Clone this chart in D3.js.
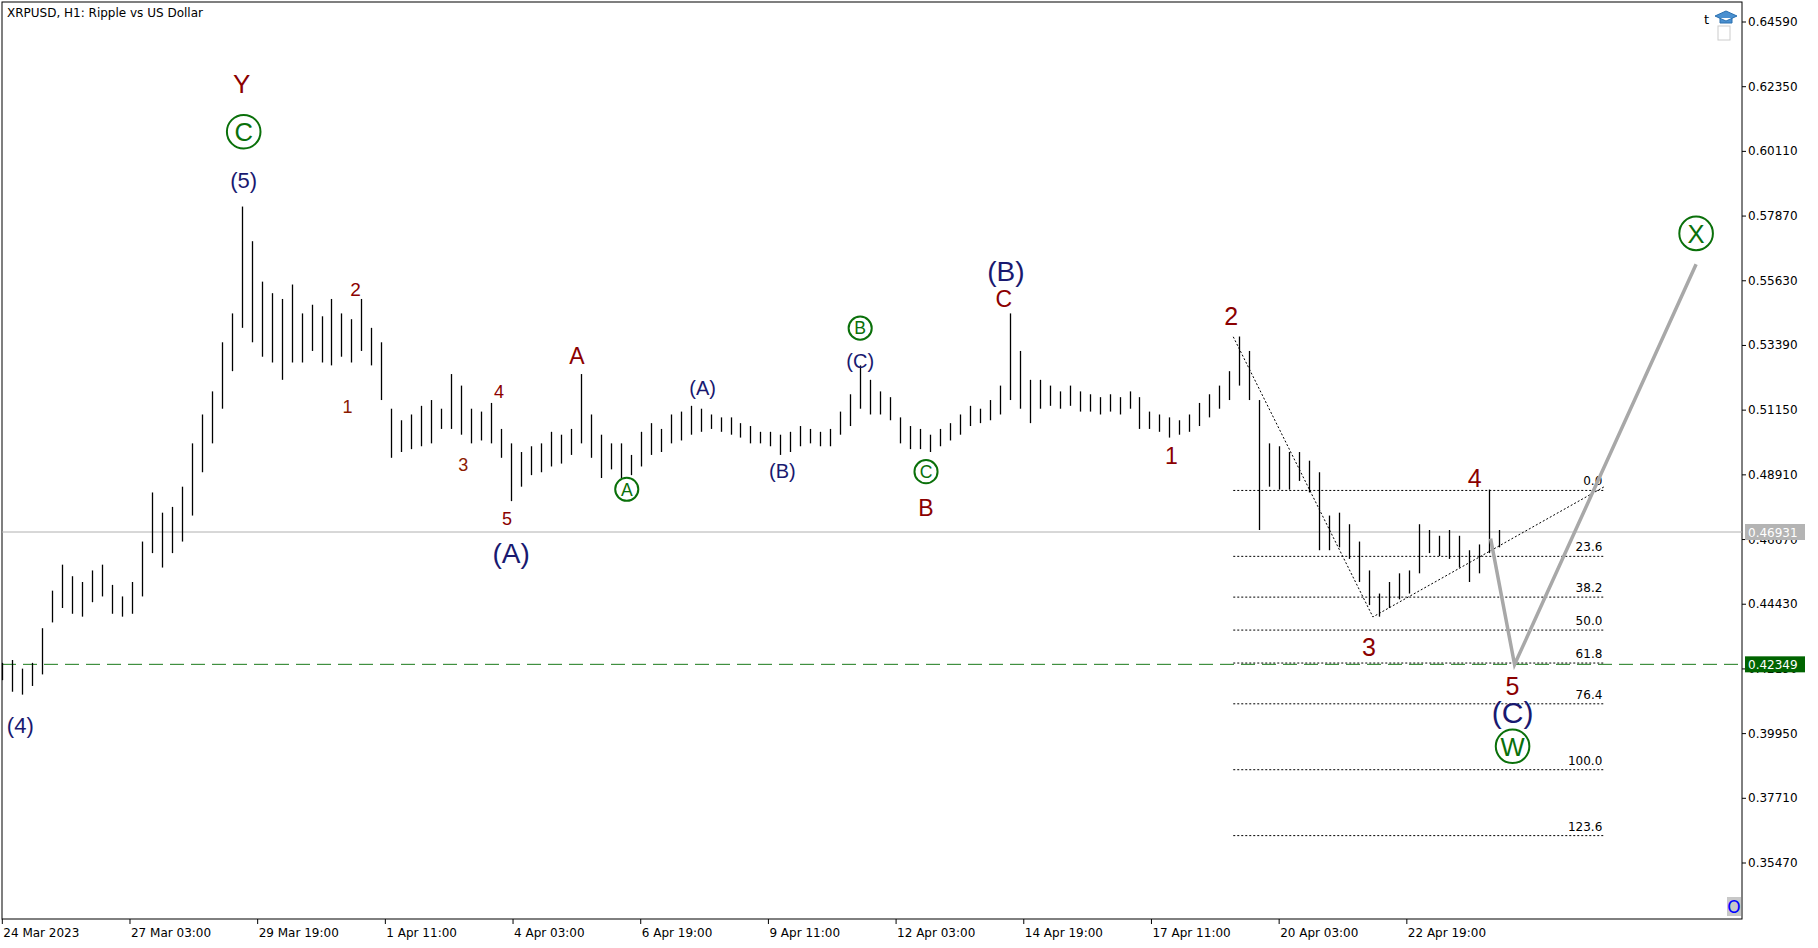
<!DOCTYPE html>
<html><head><meta charset="utf-8">
<script src="https://cdn.jsdelivr.net/npm/d3@7"></script>
<style>body{margin:0;background:#fff}svg{display:block}</style>
</head><body><svg id="c" width="1818" height="948"></svg>
<script>
// bars every 5 hours (hour offset = 5*k), prices in thousandths
const barHigh=[424,425,422,424,436,449,458,454,452,456,458,451,447,452,466,483,476,478,485,500,510,518,535,545,582,570,556,552,550,555,545,548,544,550,545,543,550,540,535,512,508,510,513,515,512,524,520,512,511,514,505,500,497,499,500,504,503,505,524,510,503,500,500,496,504,507,505,510,511,513,512,510,509,509,507,506,504,504,503,504,506,505,504,505,511,517,527,522,518,516,509,506,505,503,505,507,510,513,512,515,520,545,532,522,522,520,518,520,518,517,516,517,516,518,516,511,510,509,508,510,514,517,520,525,537,532,515,500,499,497,497,494,490,475,476,472,466,456,448,452,455,456,472,470,468,470,468,463,465,484,470];
const barLow=[418,414,413,416,420,438,443,441,440,445,447,441,440,441,447,462,457,462,466,475,490,500,512,525,540,535,530,528,522,528,528,532,528,527,530,528,532,527,515,495,497,498,499,500,505,505,503,500,501,500,495,480,485,489,490,492,493,496,500,495,488,491,488,489,492,496,497,500,501,503,504,505,504,503,502,500,500,499,496,497,499,500,499,499,503,506,512,510,510,508,500,498,498,497,499,501,503,506,507,508,510,515,512,507,512,513,512,513,511,511,510,511,510,512,505,505,504,502,503,504,506,509,512,515,520,515,470,485,484,484,487,483,463,463,464,460,452,444,440,443,446,448,455,462,461,460,457,452,455,462,464];
const barHours=5;
const dateLabels=["24 Mar 2023","27 Mar 03:00","29 Mar 19:00","1 Apr 11:00","4 Apr 03:00","6 Apr 19:00","9 Apr 11:00","12 Apr 03:00","14 Apr 19:00","17 Apr 11:00","20 Apr 03:00","22 Apr 19:00"];
const dateHours=[0,64,128,192,256,320,384,448,512,576,640,704];
const priceTicks=[0.64590,0.62350,0.60110,0.57870,0.55630,0.53390,0.51150,0.48910,0.46670,0.44430,0.42190,0.39950,0.37710,0.35470];
const currentPrice=0.46931, levelPrice=0.42349;
const fibRatios=[0,23.6,38.2,50,61.8,76.4,100,123.6];
const fibTop=0.4837, fibBottom=0.3870, fibStartH=617, fibEndH=803;
const trendPts=[[617,0.5369],[687,0.4399],[803,0.4850]];
const forecast=[[746,0.4670],[758,0.4234],[849,0.5620]];
// labels: text, hour, price, type, size
const labels=[
["Y",120,0.6245,"r",26],["C",121,0.6079,"g",16],["(5)",121,0.5913,"b",22],["(4)",9,0.4024,"b",22],
["2",177,0.5533,"r",19],["1",173,0.5128,"o",18],["3",231,0.4926,"o",18],["4",249,0.5181,"r",18],["5",253,0.4740,"r",18],
["(A)",255,0.4619,"b",28],["A",288,0.5302,"r",23],["A",313,0.4841,"g",11],["(A)",351,0.5193,"b",20],["(B)",391,0.4906,"b",20],
["B",430,0.5399,"g",11],["(C)",430,0.5286,"b",20],["C",463,0.4902,"g",11],["B",463,0.4776,"r",23],
["(B)",503,0.5597,"b",28],["C",502,0.5500,"r",23],["2",616,0.5440,"r",25],["1",586,0.4958,"r",23],
["3",685,0.4295,"r",25],["4",738,0.4881,"r",25],["5",757,0.4161,"r",25],["(C)",757,0.4068,"b",30],["W",757,0.3951,"g",16],["X",849,0.5727,"g",16]];

const svg=d3.select("#c");
const L=2,T=2,R=1742,B=919;
const x=d3.scaleLinear().domain([0,872]).range([L+0.3,R]);
const y=d3.scaleLinear().domain([0.6459,0.3547]).range([22,863]);
const F="'DejaVu Sans',sans-serif";

svg.append("rect").attr("x",L).attr("y",T).attr("width",R-L).attr("height",B-T).attr("fill","none").attr("stroke","#000");
svg.append("text").attr("x",7).attr("y",17).attr("font-family",F).attr("font-size",12).text("XRPUSD, H1:  Ripple vs US Dollar");

const pa=svg.append("g");
priceTicks.forEach(p=>{
  pa.append("line").attr("x1",R).attr("x2",R+4).attr("y1",y(p)).attr("y2",y(p)).attr("stroke","#000");
  pa.append("text").attr("x",R+6).attr("y",y(p)+4).attr("font-family",F).attr("font-size",12).text(p.toFixed(5));
});
dateLabels.forEach((d,i)=>{
  const xx=x(dateHours[i]);
  svg.append("line").attr("x1",xx).attr("x2",xx).attr("y1",B).attr("y2",B+5).attr("stroke","#000");
  svg.append("text").attr("x",xx+1).attr("y",B+18).attr("font-family",F).attr("font-size",12).text(d);
});

svg.append("line").attr("x1",L).attr("x2",R).attr("y1",y(currentPrice)).attr("y2",y(currentPrice)).attr("stroke","#b0b0b0");
svg.append("line").attr("x1",L).attr("x2",R).attr("y1",y(levelPrice)).attr("y2",y(levelPrice)).attr("stroke","#1a7a1a").attr("stroke-dasharray","14,7");

fibRatios.forEach(r=>{
  const p=fibTop-(fibTop-fibBottom)*r/100;
  svg.append("line").attr("x1",x(fibStartH)).attr("x2",x(fibEndH)).attr("y1",y(p)).attr("y2",y(p)).attr("stroke","#000").attr("stroke-dasharray","2,2");
  svg.append("text").attr("x",x(fibEndH)-2).attr("y",y(p)-5).attr("text-anchor","end").attr("font-family",F).attr("font-size",12).text(r.toFixed(1));
});
svg.append("path").attr("d",d3.line().x(d=>x(d[0])).y(d=>y(d[1]))(trendPts)).attr("fill","none").attr("stroke","#000").attr("stroke-dasharray","2,2");

const bars=svg.append("g");
barHigh.forEach((h,k)=>{
  const xx=Math.round(x(k*barHours))+0.5;
  bars.append("line").attr("x1",xx).attr("x2",xx).attr("y1",y(h/1000)).attr("y2",y(barLow[k]/1000)).attr("stroke","#000").attr("stroke-width",1.3);
});

svg.append("path").attr("d",d3.line().x(d=>x(d[0])).y(d=>y(d[1]))(forecast)).attr("fill","none").attr("stroke","#a8a8a8").attr("stroke-width",3.5);

const col={r:"#8b0000",b:"#191970",o:"#8b1a00",g:"#0a700a"};
labels.forEach(([t,h,p,k,s])=>{
  const g=svg.append("g").attr("transform",`translate(${x(h)},${y(p)})`);
  if(k==="g"){
    g.append("circle").attr("r",s*1.05).attr("fill","none").attr("stroke","#0a700a").attr("stroke-width",2);
    g.append("text").attr("text-anchor","middle").attr("dy","0.36em").attr("font-family","'Liberation Sans',Arial").attr("font-size",s*1.6).attr("fill",col.g).text(t);
  } else {
    g.append("text").attr("text-anchor","middle").attr("dy","0.36em").attr("font-family","'Liberation Sans',Arial").attr("font-size",s).attr("fill",col[k]).text(t);
  }
});

function box(p,fill,tc){
  svg.append("rect").attr("x",R+3).attr("y",y(p)-8).attr("width",60).attr("height",16).attr("fill",fill);
  svg.append("text").attr("x",R+6).attr("y",y(p)+5).attr("font-family",F).attr("font-size",12).attr("fill",tc).text(p.toFixed(5));
}
box(currentPrice,"#b4b4b4","#fff");
box(levelPrice,"#006400","#fff");

svg.append("text").attr("x",1704).attr("y",24).attr("font-family",F).attr("font-size",13).text("t");
svg.append("path").attr("d","M1715,16 l11,-5 l11,5 l-11,5 z M1720,18 v5 h12 v-5").attr("fill","#4a90d0").attr("stroke","#2a70b0");
svg.append("rect").attr("x",1718).attr("y",26).attr("width",12).attr("height",14).attr("fill","none").attr("stroke","#ccc");
svg.append("rect").attr("x",1727).attr("y",897).attr("width",14).attr("height",19).attr("fill","#c8c8c8");
svg.append("text").attr("x",1734).attr("y",913).attr("text-anchor","middle").attr("font-family",F).attr("font-size",17).attr("fill","#0000ff").text("O");
</script></body></html>
